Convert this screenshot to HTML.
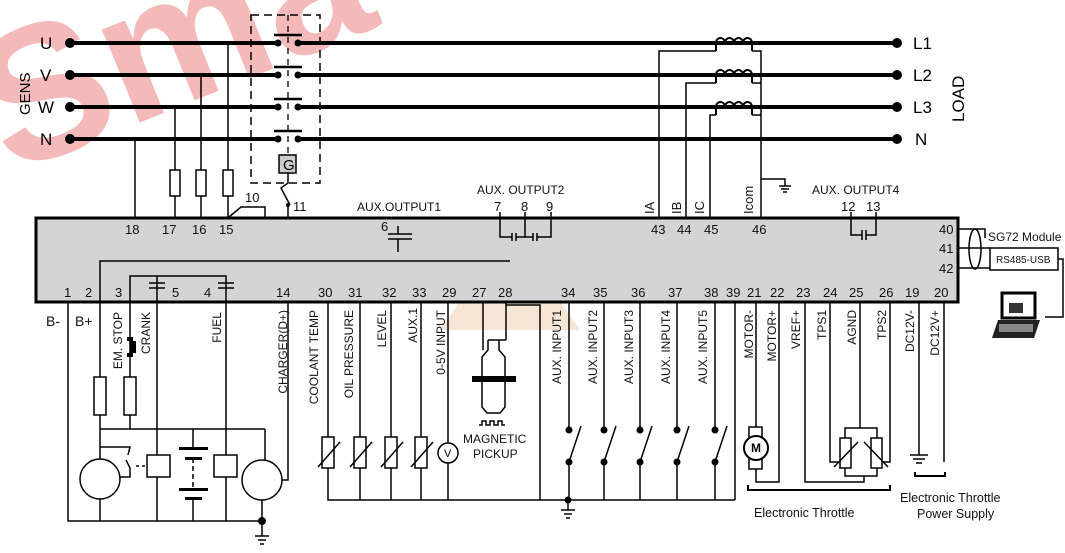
<!DOCTYPE html>
<html><head><meta charset="utf-8"><style>
html,body{margin:0;padding:0;background:#fff;}
svg{display:block;font-family:"Liberation Sans",Arial,sans-serif;}
</style></head><body>
<svg width="1065" height="553" viewBox="0 0 1065 553" xmlns="http://www.w3.org/2000/svg">
<!-- watermark -->
<text x="10" y="175" font-size="190" font-weight="bold" fill="#f4b9b9" transform="rotate(-22 10 175)">Sma</text>
<polygon points="510,230 440,330 580,330" fill="#f3dcc4" opacity="0.7"/>

<g stroke="#000" fill="none">
<g stroke-width="4">
<line x1="70" y1="43" x2="278" y2="43"/><line x1="298" y1="43" x2="897" y2="43"/>
<line x1="70" y1="75" x2="278" y2="75"/><line x1="298" y1="75" x2="897" y2="75"/>
<line x1="70" y1="107" x2="278" y2="107"/><line x1="298" y1="107" x2="897" y2="107"/>
<line x1="70" y1="139" x2="278" y2="139"/><line x1="298" y1="139" x2="897" y2="139"/>
</g>
<g stroke-width="2.5">
<line x1="274" y1="35" x2="302" y2="35"/><line x1="274" y1="67" x2="302" y2="67"/>
<line x1="274" y1="99" x2="302" y2="99"/><line x1="274" y1="131" x2="302" y2="131"/>
</g>
<rect x="251" y="15" width="69" height="168" stroke-width="1.5" stroke-dasharray="8,5"/>
<line x1="288" y1="15" x2="288" y2="155" stroke-width="1.3" stroke-dasharray="6,5"/>
<rect x="279" y="155" width="17" height="18" fill="#ccc" stroke-width="1.5"/>
<g stroke-width="1.5">
<line x1="135" y1="139" x2="135" y2="217"/>
<line x1="175" y1="107" x2="175" y2="217"/>
<line x1="201" y1="75" x2="201" y2="217"/>
<line x1="228" y1="43" x2="228" y2="217"/>
<rect x="170" y="170" width="10" height="26" fill="#fff"/>
<rect x="196" y="170" width="10" height="26" fill="#fff"/>
<rect x="223" y="170" width="10" height="26" fill="#fff"/>
<polyline points="229,217 241,207 265,207 265,238 275,238"/>
<line x1="275" y1="232" x2="275" y2="244"/><line x1="279" y1="232" x2="279" y2="244"/>
<polyline points="279,238 288,238 288,205"/>
<polyline points="288,173 288,183 281,188 290,205"/>
<polyline points="659,217 659,51 716,51"/>
<polyline points="686,217 686,83 716,83"/>
<polyline points="710,217 710,115 716,115"/>
<polyline points="752,51 761,51 761,217"/>
<polyline points="752,83 761,83"/><polyline points="752,115 761,115"/>
<polyline points="761,179 785,179 785,186"/>
<line x1="779" y1="186" x2="791" y2="186"/><line x1="781" y1="189" x2="789" y2="189"/><line x1="783" y1="192" x2="787" y2="192"/>
</g>
<g stroke-width="2">
<path d="M716,51 v-8 a4.5,5 0 0 1 9,0 a4.5,5 0 0 1 9,0 a4.5,5 0 0 1 9,0 a4.5,5 0 0 1 9,0 v8"/>
<path d="M716,83 v-8 a4.5,5 0 0 1 9,0 a4.5,5 0 0 1 9,0 a4.5,5 0 0 1 9,0 a4.5,5 0 0 1 9,0 v8"/>
<path d="M716,115 v-8 a4.5,5 0 0 1 9,0 a4.5,5 0 0 1 9,0 a4.5,5 0 0 1 9,0 a4.5,5 0 0 1 9,0 v8"/>
</g>
</g>
<g fill="#000">
<circle cx="70" cy="43" r="5"/><circle cx="70" cy="75" r="5"/><circle cx="70" cy="107" r="5"/><circle cx="70" cy="139" r="5"/>
<circle cx="278" cy="43" r="3.5"/><circle cx="298" cy="43" r="3.5"/><circle cx="278" cy="75" r="3.5"/><circle cx="298" cy="75" r="3.5"/>
<circle cx="278" cy="107" r="3.5"/><circle cx="298" cy="107" r="3.5"/><circle cx="278" cy="139" r="3.5"/><circle cx="298" cy="139" r="3.5"/>
<circle cx="897" cy="43" r="5"/><circle cx="897" cy="75" r="5"/><circle cx="897" cy="107" r="5"/><circle cx="897" cy="139" r="5"/>
<circle cx="288" cy="205" r="2"/>
</g>
<g font-size="17" fill="#000">
<text x="40" y="49">U</text><text x="40" y="81">V</text><text x="38" y="113">W</text><text x="40" y="145">N</text>
<text x="913" y="49">L1</text><text x="913" y="81">L2</text><text x="913" y="113">L3</text><text x="915" y="145">N</text>
<text x="283" y="170" font-size="15">G</text>
<text transform="translate(30 115) rotate(-90)" font-size="15">GENS</text>
<text transform="translate(964 122) rotate(-90)" font-size="17">LOAD</text>
</g>

<rect x="36" y="218" width="922" height="84" fill="#d4d4d4" stroke="#000" stroke-width="3"/>
<g stroke="#000" fill="none" stroke-width="1.5">
<polyline points="100,302 100,261 510,261"/>
<polyline points="130,302 130,276 226,276 226,302"/>
<line x1="157" y1="276" x2="157" y2="302"/>
<line x1="149" y1="283" x2="165" y2="283"/><line x1="149" y1="288" x2="165" y2="288"/>
<line x1="218" y1="283" x2="234" y2="283"/><line x1="218" y1="288" x2="234" y2="288"/>
<path d="M398,226 V234 M388,234 H412 M388,239 H412 M398,239 V252"/>
<path d="M500,212 V237 H512 M512,233 V241 M516,233 V241 M516,237 H533 M533,233 V241 M537,233 V241 M537,237 H551 V212 M525,212 V237"/>
<path d="M851,212 V235 H862 M862,230 V240 M866,230 V240 M866,235 H876 V212"/>
<polyline points="958,229 985,229 985,238"/><line x1="958" y1="248" x2="990" y2="248"/><line x1="958" y1="268" x2="990" y2="268"/>
<ellipse cx="975" cy="249" rx="6" ry="20"/>
<rect x="990" y="248" width="68" height="22" fill="#fff"/>
<polyline points="1058,259 1063,259 1063,317 1045,317"/>
</g>
<g font-size="13" fill="#111">
<text x="125" y="234">18</text><text x="162" y="234">17</text><text x="192" y="234">16</text><text x="219" y="234">15</text>
<text x="245" y="202">10</text><text x="293" y="211">11</text>
<text x="381" y="231">6</text><text x="357" y="211" font-size="12">AUX.OUTPUT1</text>
<text x="477" y="194" font-size="12">AUX. OUTPUT2</text>
<text x="494" y="211">7</text><text x="521" y="211">8</text><text x="546" y="211">9</text>
<text x="651" y="234">43</text><text x="677" y="234">44</text><text x="704" y="234">45</text><text x="752" y="234">46</text>
<text x="812" y="194" font-size="12">AUX. OUTPUT4</text>
<text x="841" y="211">12</text><text x="866" y="211">13</text>
<text x="939" y="234">40</text><text x="939" y="253">41</text><text x="939" y="273">42</text>
<text x="988" y="241" font-size="12">SG72 Module</text>
<text x="996" y="263" font-size="10">RS485-USB</text>
<text transform="translate(654 214) rotate(-90)">IA</text>
<text transform="translate(681 214) rotate(-90)">IB</text>
<text transform="translate(704 214) rotate(-90)">IC</text>
<text transform="translate(753 214) rotate(-90)">Icom</text>
</g>
<g>
<rect x="1002" y="293" width="33" height="25" fill="#fff" stroke="#000" stroke-width="3"/>
<rect x="1009" y="303" width="14" height="10" fill="#333"/>
<polygon points="998,320 1040,320 1034,338 992,338" fill="#222"/>
<rect x="999" y="324" width="34" height="8" fill="#888"/>
</g>
<g font-size="13" fill="#111">
<text x="64" y="297">1</text><text x="85" y="297">2</text><text x="115" y="297">3</text><text x="172" y="297">5</text><text x="204" y="297">4</text>
<text x="276" y="297">14</text><text x="318" y="297">30</text><text x="348" y="297">31</text><text x="382" y="297">32</text><text x="412" y="297">33</text>
<text x="442" y="297">29</text><text x="472" y="297">27</text><text x="498" y="297">28</text><text x="561" y="297">34</text><text x="593" y="297">35</text>
<text x="631" y="297">36</text><text x="668" y="297">37</text><text x="704" y="297">38</text><text x="726" y="297">39</text><text x="747" y="297">21</text>
<text x="770" y="297">22</text><text x="796" y="297">23</text><text x="823" y="297">24</text><text x="849" y="297">25</text><text x="879" y="297">26</text>
<text x="905" y="297">19</text><text x="934" y="297">20</text>
</g>

<g stroke="#000" fill="none" stroke-width="1.5">
<polyline points="68,302 68,521 262,521"/>
<line x1="100" y1="302" x2="100" y2="459"/>
<line x1="130" y1="302" x2="130" y2="429"/>
<rect x="94" y="377" width="12" height="38" fill="#fff"/><rect x="124" y="377" width="12" height="38" fill="#fff"/>
<line x1="100" y1="429" x2="265" y2="429"/>
<line x1="157" y1="302" x2="157" y2="521"/><line x1="226" y1="302" x2="226" y2="521"/>
<line x1="265" y1="429" x2="265" y2="460"/>
<circle cx="100" cy="479" r="20" fill="#fff"/><circle cx="262" cy="480" r="20" fill="#fff"/>
<line x1="100" y1="499" x2="100" y2="521"/><line x1="262" y1="500" x2="262" y2="536"/>
<polyline points="100,447 130,447 128,455"/><polyline points="120,477 130,477 130,468 126,460"/>
<line x1="136" y1="466" x2="147" y2="466" stroke-dasharray="3,3"/>
<rect x="147" y="455" width="23" height="22" fill="#fff"/><rect x="214" y="455" width="23" height="22" fill="#fff"/>
<line x1="193" y1="429" x2="193" y2="449"/><line x1="193" y1="458" x2="193" y2="489" stroke-dasharray="5,3"/><line x1="193" y1="498" x2="193" y2="521"/>
<polyline points="288,302 288,480 282,480"/>
<line x1="255" y1="536" x2="269" y2="536"/><line x1="258" y1="540" x2="266" y2="540"/><line x1="260" y1="544" x2="264" y2="544"/>
</g>
<g fill="#000">
<rect x="179" y="447" width="29" height="3"/><rect x="185" y="457" width="17" height="3"/>
<rect x="179" y="488" width="29" height="3"/><rect x="185" y="497" width="17" height="3"/>
<circle cx="262" cy="521" r="4"/>
<path d="M127,337 h6 v4 h3 v12 h-3 v4 h-6 v-4 h3 v-12 h-3 z"/>
</g>
<g stroke="#000" fill="none" stroke-width="1.5">
<polyline points="328,302 328,500 540,500"/>
<line x1="360" y1="302" x2="360" y2="500"/><line x1="391" y1="302" x2="391" y2="500"/>
<line x1="421" y1="302" x2="421" y2="500"/><line x1="448" y1="302" x2="448" y2="443"/><line x1="448" y1="463" x2="448" y2="500"/>
<rect x="322" y="437" width="12" height="31" fill="#fff"/><rect x="354" y="437" width="12" height="31" fill="#fff"/>
<rect x="385" y="437" width="12" height="31" fill="#fff"/><rect x="415" y="437" width="12" height="31" fill="#fff"/>
<line x1="318" y1="467" x2="340" y2="442"/><line x1="350" y1="467" x2="372" y2="442"/>
<line x1="381" y1="467" x2="403" y2="442"/><line x1="411" y1="467" x2="433" y2="442"/>
<circle cx="448" cy="453" r="10" fill="#fff"/>
<polyline points="483,302 483,350"/><polyline points="506,302 506,305 540,305 540,500"/>
<polyline points="488,340 488,350 482,357 482,407 487,413 500,413 505,407 505,357 499,350 499,340"/>
<line x1="488" y1="340" x2="506" y2="340"/><line x1="506" y1="305" x2="506" y2="340"/>
<path d="M479,425 h3 v-4 h4 v4 h4 v-4 h4 v4 h4 v-4 h4 v4 h3"/>
<line x1="540" y1="500" x2="735" y2="500"/><line x1="735" y1="302" x2="735" y2="500"/>
<g>
<line x1="569" y1="302" x2="569" y2="430"/><line x1="569" y1="462" x2="569" y2="500"/><line x1="569" y1="462" x2="581" y2="426"/>
<line x1="604" y1="302" x2="604" y2="430"/><line x1="604" y1="462" x2="604" y2="500"/><line x1="604" y1="462" x2="616" y2="426"/>
<line x1="640" y1="302" x2="640" y2="430"/><line x1="640" y1="462" x2="640" y2="500"/><line x1="640" y1="462" x2="652" y2="426"/>
<line x1="677" y1="302" x2="677" y2="430"/><line x1="677" y1="462" x2="677" y2="500"/><line x1="677" y1="462" x2="689" y2="426"/>
<line x1="715" y1="302" x2="715" y2="430"/><line x1="715" y1="462" x2="715" y2="500"/><line x1="715" y1="462" x2="727" y2="426"/>
</g>
<line x1="568" y1="500" x2="568" y2="510"/><line x1="561" y1="510" x2="575" y2="510"/><line x1="564" y1="514" x2="572" y2="514"/><line x1="566" y1="518" x2="570" y2="518"/>
<polyline points="756,302 756,482 779,482 779,302"/>
<rect x="749" y="427" width="13" height="42" fill="#fff"/>
<circle cx="756" cy="448" r="12" fill="#fff" stroke-width="2"/>
<polyline points="805,302 805,482 864,482 864,475"/>
<polyline points="830,302 830,462 838,462"/><polyline points="890,302 890,462 882,462"/>
<line x1="860" y1="302" x2="860" y2="428"/>
<rect x="845" y="428" width="32" height="48"/>
<rect x="840" y="438" width="11" height="30" fill="#fff"/><rect x="871" y="438" width="11" height="30" fill="#fff"/>
<line x1="834" y1="467" x2="858" y2="442"/><line x1="888" y1="467" x2="864" y2="442"/>
<line x1="919" y1="302" x2="919" y2="455"/>
<line x1="910" y1="455" x2="928" y2="455"/><line x1="913" y1="459" x2="925" y2="459"/><line x1="916" y1="463" x2="922" y2="463"/>
<line x1="944" y1="302" x2="944" y2="462"/>
<polyline points="748,485 748,490 890,490 890,485" stroke-width="2"/>
<polyline points="915,472 915,476 945,476 945,472" stroke-width="2"/>
</g>
<text x="751" y="452" font-size="12" font-weight="bold" fill="#000">M</text>
<text x="444" y="457" font-size="11" fill="#000">V</text>
<g fill="#000"><circle cx="569" cy="430" r="3.5"/><circle cx="569" cy="462" r="3.5"/><circle cx="604" cy="430" r="3.5"/><circle cx="604" cy="462" r="3.5"/>
<circle cx="640" cy="430" r="3.5"/><circle cx="640" cy="462" r="3.5"/><circle cx="677" cy="430" r="3.5"/><circle cx="677" cy="462" r="3.5"/>
<circle cx="715" cy="430" r="3.5"/><circle cx="715" cy="462" r="3.5"/><circle cx="568" cy="500" r="3.5"/>
<rect x="472" y="376" width="44" height="6"/></g>

<g font-size="13" fill="#111">
<text x="46" y="326" font-size="14">B-</text><text x="75" y="326" font-size="14">B+</text>
<text x="463" y="443" font-size="12">MAGNETIC</text><text x="473" y="458" font-size="12">PICKUP</text>
<text x="754" y="517" font-size="12.5">Electronic  Throttle</text>
<text x="900" y="502" font-size="12.5">Electronic  Throttle</text><text x="917" y="518" font-size="12.5">Power Supply</text>
</g>
<g font-size="12" fill="#111" text-anchor="end">
<text transform="translate(122 312) rotate(-90)">EM. STOP</text>
<text transform="translate(150 312) rotate(-90)">CRANK</text>
<text transform="translate(221 312) rotate(-90)">FUEL</text>
<text transform="translate(287 310) rotate(-90)">CHARGER(D+)</text>
<text transform="translate(318 310) rotate(-90)">COOLANT TEMP</text>
<text transform="translate(353 310) rotate(-90)">OIL PRESSURE</text>
<text transform="translate(386 310) rotate(-90)">LEVEL</text>
<text transform="translate(417 308) rotate(-90)">AUX.1</text>
<text transform="translate(445 310) rotate(-90)">0-5V INPUT</text>
<text transform="translate(561 310) rotate(-90)">AUX. INPUT1</text>
<text transform="translate(597 310) rotate(-90)">AUX. INPUT2</text>
<text transform="translate(633 310) rotate(-90)">AUX. INPUT3</text>
<text transform="translate(670 310) rotate(-90)">AUX. INPUT4</text>
<text transform="translate(707 310) rotate(-90)">AUX. INPUT5</text>
<text transform="translate(753 310) rotate(-90)">MOTOR-</text>
<text transform="translate(776 310) rotate(-90)">MOTOR+</text>
<text transform="translate(800 310) rotate(-90)">VREF+</text>
<text transform="translate(826 310) rotate(-90)">TPS1</text>
<text transform="translate(856 310) rotate(-90)">AGND</text>
<text transform="translate(886 310) rotate(-90)">TPS2</text>
<text transform="translate(914 310) rotate(-90)">DC12V-</text>
<text transform="translate(939 310) rotate(-90)">DC12V+</text>
</g>
</svg>
</body></html>
